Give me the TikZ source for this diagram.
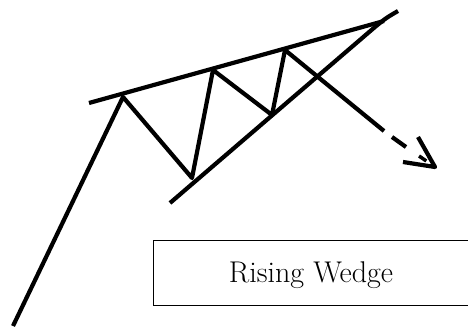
\documentclass[tikz,border=0pt]{standalone}
\usetikzlibrary{calc}
\begin{document}
\begin{tikzpicture}[x=1pt,y=-1pt,
  pen/.style={line width=4.2pt,line join=round,line cap=butt,black},
  thin box/.style={draw,line width=1pt,minimum width=319pt,minimum height=65pt,inner sep=0pt},
  title/.style={font=\fontsize{30}{32}\selectfont,inner sep=0pt,anchor=base}]
\useasboundingbox (0,0) rectangle (468,328);
% price path points
\coordinate (s) at (13,326);
\coordinate (p1) at (123,97);
\coordinate (t1) at (192,178);
\coordinate (p2) at (213,70);
\coordinate (t2) at (272,115);
\coordinate (p3) at (285,50);
\coordinate (brk) at (384,131);
\coordinate (d1) at (392,137);
\coordinate (d2) at (406,147);
\coordinate (tip) at (435,167);
\coordinate (a1) at (403,162);
\coordinate (a2) at (418,137);
% trend lines
\coordinate (u1) at (89,103);
\coordinate (u2) at (384,21);
\coordinate (l1) at (170,203);
\coordinate (l2) at (375,27);
\coordinate (l3) at (398,11);
\draw[pen] (u1) -- (u2);
\draw[pen] (l1) -- (l2) .. controls (386,18) .. (l3);
\draw[pen] (s) -- (p1) -- (t1) -- (p2) -- (t2) -- (p3) -- (brk);
\draw[pen] (d1) -- (d2);
\draw[pen] (a1) -- (tip) -- (a2);
\draw[pen,line width=3.5pt] ($(d2)!0.45!(tip)$) -- ($(d2)!0.7!(tip)$);
% label box
\node (box) [thin box] at (312.5,273) {};
\node (name) [title] at (311,283) {Rising Wedge};
\end{tikzpicture}
\end{document}
